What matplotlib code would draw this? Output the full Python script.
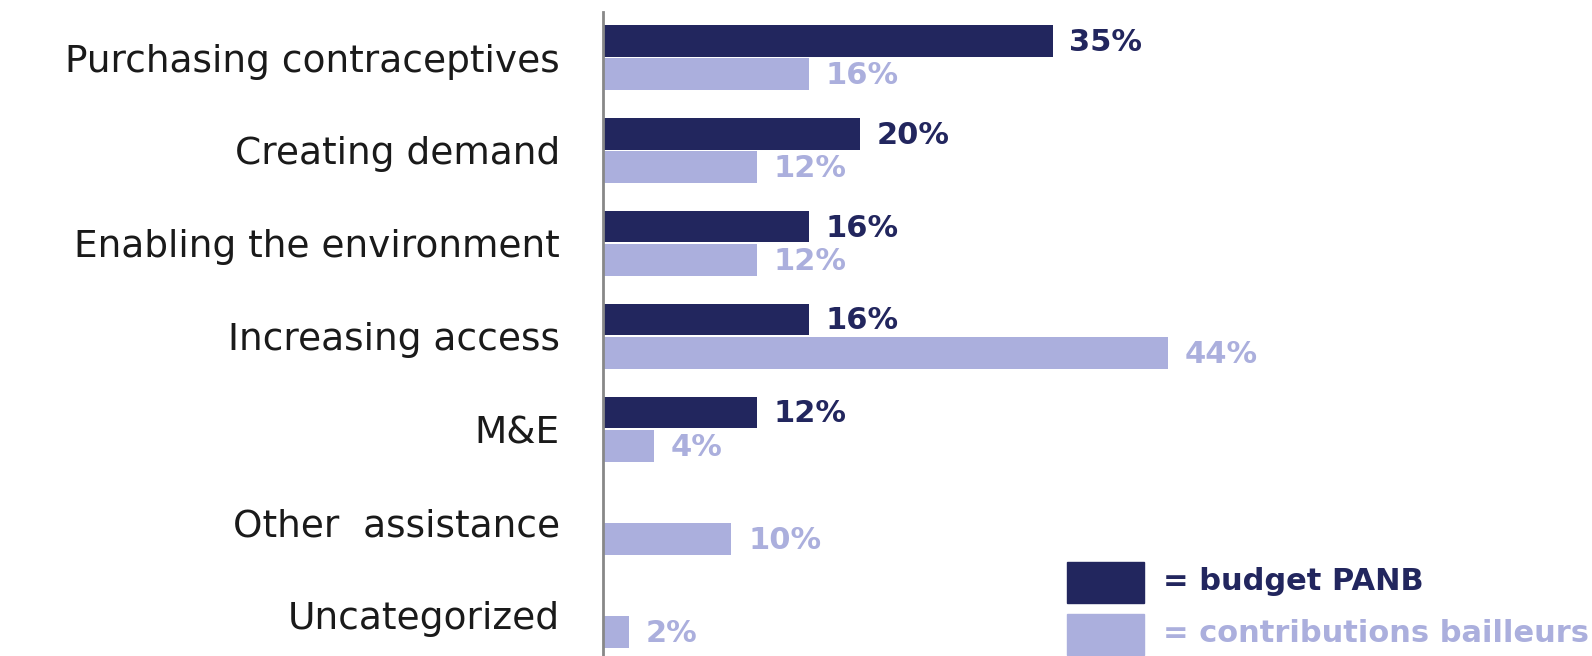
import matplotlib
matplotlib.use("Agg")
import numpy as np
from matplotlib import pyplot as plt
from matplotlib.patches import Rectangle

# data
categories = ["Purchasing contraceptives", "Creating demand", "Enabling the environment",
              "Increasing access", "M&E", "Other  assistance", "Uncategorized"]
budget_panb = [35, 20, 16, 16, 12, 0, 0]
contrib_bailleurs = [16, 12, 12, 44, 4, 10, 2]
series_names = ["= budget PANB", "= contributions bailleurs"]

dark = "#22265E"
light = "#ABAFDD"

plt.rcParams['font.family'] = ['DejaVu Sans']

fig = plt.figure(figsize=(15.92, 6.56), dpi=100)
ax = fig.add_axes([603/1592, 0, 1 - 603/1592, 1 - 12/656])

y = np.arange(len(categories))
h = 0.34
off = 0.18

ax.barh(y - off, budget_panb, height=h, color=dark)
ax.barh(y + off, contrib_bailleurs, height=h, color=light)

#value labels, skip the empty budget bars
for yi, v in zip(y, budget_panb):
    if v > 0:
        ax.annotate(f"{v}%", (v, yi - off), xytext=(12, -1), textcoords="offset points",
                    va="center", ha="left", fontsize=22, fontweight="bold", color=dark)
for yi, v in zip(y, contrib_bailleurs):
    ax.annotate(f"{v}%", (v, yi + off), xytext=(12, -1), textcoords="offset points",
                va="center", ha="left", fontsize=22, fontweight="bold", color=light)

ax.set_xlim(0, 77)
ax.set_ylim(6.44, -0.49)
ax.set_yticks(y)
ax.set_yticklabels(categories, fontsize=27, color="#1a1a1a")
ax.tick_params(axis="y", length=0, pad=31)
ax.set_xticks([])
for s in ["top", "right", "bottom"]:
    ax.spines[s].set_visible(False)
ax.spines["left"].set_color("#888888")
ax.spines["left"].set_linewidth(2)

# legend drawn by hand, big swatches like the original
fig.patches.append(Rectangle((1067/1592, 1 - 603/656), 77/1592, 41/656,
                             transform=fig.transFigure, color=dark))
fig.patches.append(Rectangle((1067/1592, 1 - 655/656), 77/1592, 41/656,
                             transform=fig.transFigure, color=light))
fig.text(1163/1592, 1 - 582/656, series_names[0], fontsize=22, fontweight="bold",
         color=dark, va="center", ha="left")
fig.text(1163/1592, 1 - 634/656, series_names[1], fontsize=22, fontweight="bold",
         color=light, va="center", ha="left")

fig.savefig("out.png", dpi=100)
